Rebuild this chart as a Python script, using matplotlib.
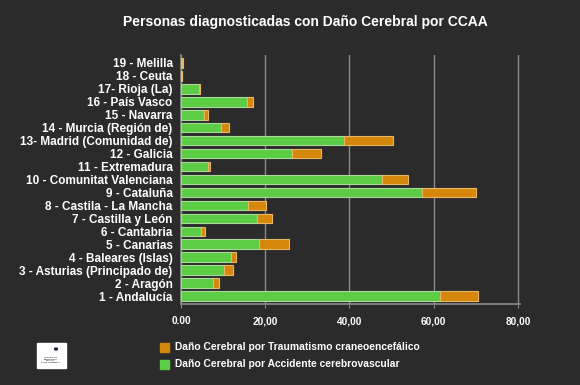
import matplotlib.pyplot as plt
import numpy as np
from matplotlib.patches import Rectangle, Circle

BG = "#2b2b2b"
GREEN = "#5ccc44"
ORANGE = "#d4870a"

regions = [
    "1 - Andalucía", "2 - Aragón", "3 - Asturias (Principado de)",
    "4 - Baleares (Islas)", "5 - Canarias", "6 - Cantabria",
    "7 - Castilla y León", "8 - Castila - La Mancha", "9 - Cataluña",
    "10 - Comunitat Valenciana", "11 - Extremadura", "12 - Galicia",
    "13- Madrid (Comunidad de)", "14 - Murcia (Región de)", "15 - Navarra",
    "16 - País Vasco", "17- Rioja (La)", "18 - Ceuta", "19 - Melilla",
]
acv = [61.5, 7.7, 10.2, 11.8, 18.5, 4.7, 18.0, 16.0, 57.2, 47.7,
       6.5, 26.4, 38.7, 9.4, 5.5, 15.6, 4.2, 0.2, 0.2]
tce = [9.0, 1.4, 2.2, 1.2, 7.2, 1.0, 3.5, 4.2, 12.9, 6.1,
       0.5, 6.8, 11.6, 2.0, 1.0, 1.6, 0.3, 0.0, 0.3]
xticks = [0, 20, 40, 60, 80]
xticklabels = ["0.00", "20,00", "40,00", "60,00", "80,00"]

plt.rcParams['font.family'] = ['Liberation Sans', 'DejaVu Sans']

fig = plt.figure(figsize=(5.8, 3.85), dpi=100, facecolor=BG)
ax = fig.add_axes([181 / 580, 1 - 304 / 385, (520 - 181) / 580, (304 - 55) / 385])
ax.set_facecolor(BG)

y = np.arange(len(regions))
ax.barh(y, acv, height=0.75, color=GREEN, edgecolor="#a8d89a", linewidth=0.8, zorder=3)
ax.barh(y, tce, left=acv, height=0.75, color=ORANGE, edgecolor="#e8b866", linewidth=0.8, zorder=3)

ax.set_xlim(0, 80.5)
ax.set_ylim(-0.6, len(regions) - 0.4)
ax.set_yticks(y)
ax.set_yticklabels(regions, color="white", fontsize=8.45, fontweight="bold")
ax.tick_params(axis="y", length=0, pad=6)
ax.set_xticks(xticks)
ax.set_xticklabels(xticklabels, color="white", fontsize=7.2, fontweight="bold")
ax.tick_params(axis="x", length=3, color="#8a8a8a", pad=6)
ax.xaxis.grid(True, color="#8a8a8a", linewidth=1, zorder=0)
for s in ["top", "right"]:
    ax.spines[s].set_visible(False)
for s in ["left", "bottom"]:
    ax.spines[s].set_color("#8a8a8a")
    ax.spines[s].set_linewidth(1.2)

fig.text(305 / 580, 1 - 22 / 385, "Personas diagnosticadas con Daño Cerebral por CCAA",
         color="white", fontsize=10, fontweight="bold", ha="center", va="center")

# legend
for i, (c, lab) in enumerate([(ORANGE, "Daño Cerebral por Traumatismo craneoencefálico"),
                              (GREEN, "Daño Cerebral por Accidente cerebrovascular")]):
    yy = 1 - (347 + i * 17) / 385
    fig.patches.append(Rectangle((160 / 580, yy - 4.5 / 385), 9 / 580, 9 / 385,
                                 transform=fig.transFigure, color=c))
    fig.text(175 / 580, yy, lab, color="white", fontsize=7.4, fontweight="bold", va="center")

# logo
fig.patches.append(Rectangle((37 / 580, 1 - 368 / 385), 29 / 580, 25 / 385,
                             transform=fig.transFigure, color="white"))
fig.patches.append(Circle((56 / 580, 1 - 349 / 385), 1.5 / 580, transform=fig.transFigure,
                          color="#222244"))
fig.text(51 / 580, 1 - 360 / 385, "CENTRO DE\nREFERENCIA\nESTATAL\nDAÑO CEREBRAL",
         fontsize=1.6, color="black", ha="center", va="center", linespacing=1.1)

fig.savefig("out.png", dpi=100, facecolor=BG)
